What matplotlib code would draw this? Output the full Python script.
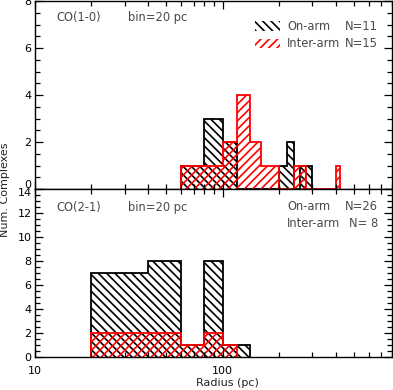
import numpy as np
import matplotlib
matplotlib.use('Agg')
import matplotlib.pyplot as plt
from matplotlib.patches import Rectangle
from matplotlib.ticker import LogLocator, NullFormatter, FixedLocator, FixedFormatter, MultipleLocator

# ---- histogram data (left bin edge in pc, counts) ----
binWidth = 20
co10_on_left = [60, 80, 100, 200, 220, 260, 280]
co10_on_n = [1, 3, 2, 1, 2, 1, 1]
co10_inter_left = [60, 80, 100, 120, 140, 160, 180, 240, 260, 400]
co10_inter_n = [1, 1, 2, 4, 2, 1, 1, 1, 1, 1]

co21_on_left = [20, 40, 60, 80, 100, 120]
co21_on_n = [7, 8, 1, 8, 1, 1]
co21_inter_left = [20, 40, 60, 80, 100]
co21_inter_n = [2, 2, 1, 2, 1]

panelLabels = ['CO(1-0)', 'CO(2-1)']
onText = ['N=11', 'N=26']
interText = ['N=15', 'N= 8']
yMax = [8, 14]
xTicks = [10, 100]
xTickLabels = ['10', '100']

plt.rcParams['font.family'] = 'DejaVu Sans'
plt.rcParams['hatch.linewidth'] = 1.2

W, H = 393., 390.
fig = plt.figure(figsize=(W/100, H/100), dpi=100)
axTop = fig.add_axes([35/W, 1-189/H, 357/W, 188/H])
axBot = fig.add_axes([35/W, 1-357/H, 357/W, 168/H])
textGray = '#4a4a4a'
fs = 8.3
hatchOn = '\\' * 4
hatchInter = '/' * 4


def draw_hist(ax, left, n, color, hatch):
    left = np.array(left)
    n = np.array(n)
    ax.bar(left, n, width=binWidth, align='edge', facecolor='none',
           edgecolor=color, hatch=hatch, linewidth=0)
    # step outline over the full bin range (zero bins included)
    edges = np.arange(left.min(), left.max() + 2*binWidth, binWidth)
    vals = np.zeros(len(edges) - 1)
    for l, c in zip(left, n):
        vals[int((l - left.min())//binWidth)] = c
    ax.stairs(vals, edges, color=color, linewidth=1.3)


draw_hist(axTop, co10_on_left, co10_on_n, 'black', hatchOn)
draw_hist(axTop, co10_inter_left, co10_inter_n, 'red', hatchInter)
draw_hist(axBot, co21_on_left, co21_on_n, 'black', hatchOn)
draw_hist(axBot, co21_inter_left, co21_inter_n, 'red', hatchInter)

for i, ax in enumerate([axTop, axBot]):
    ax.set_xscale('log')
    ax.set_xlim(10, 800)
    ax.set_ylim(0, yMax[i])
    ax.xaxis.set_major_locator(FixedLocator(xTicks))
    ax.xaxis.set_major_formatter(FixedFormatter(xTickLabels))
    ax.xaxis.set_minor_locator(LogLocator(base=10, subs=np.arange(2, 10), numticks=20))
    ax.xaxis.set_minor_formatter(NullFormatter())
    yt = list(range(0, yMax[i] + 1, 2))
    ax.yaxis.set_major_locator(FixedLocator(yt))
    # the 0 (top) and 14 (bottom) labels are placed by hand below
    lab = [str(v) for v in yt]
    if i == 0:
        lab[0] = ''
    else:
        lab[-1] = ''
    ax.yaxis.set_major_formatter(FixedFormatter(lab))
    ax.yaxis.set_minor_locator(MultipleLocator(0.5))
    ax.tick_params(which='both', direction='in', top=True, right=True,
                   labelsize=8, colors='black')
    ax.tick_params(which='major', length=6, width=0.9)
    ax.tick_params(which='minor', length=3.5, width=0.9)
    ax.tick_params(axis='y', pad=2.4)
    ax.tick_params(axis='x', pad=6.5)
    for s in ax.spines.values():
        s.set_linewidth(1.0)

axTop.set_xticklabels([])

fig.text(31.5/W, 1-184.5/H, '0', fontsize=8, ha='right', va='center')
fig.text(31.5/W, 1-193.5/H, '14', fontsize=8, ha='right', va='center')

# panel labels
for yc, lab in [(18, panelLabels[0]), (207, panelLabels[1])]:
    fig.text(56/W, 1-yc/H, lab, color=textGray, fontsize=fs, va='center')
    fig.text(128/W, 1-yc/H, 'bin=20 pc', color=textGray, fontsize=fs, va='center')

# legend in top panel: hatched swatches
for yc, color, hatch in [(26, 'black', hatchOn), (43.5, 'red', hatchInter)]:
    fig.patches.append(Rectangle((255/W, 1-(yc+4.5)/H), 25/W, 9/H,
                                 transform=fig.transFigure, facecolor='none',
                                 edgecolor=color, hatch=hatch, linewidth=0))

for y1, y2, k in [(26, 43.5, 0), (207, 224, 1)]:
    fig.text(287/W, 1-y1/H, 'On-arm', color=textGray, fontsize=fs, va='center')
    fig.text(378/W, 1-y1/H, onText[k], color=textGray, fontsize=fs, va='center', ha='right')
    fig.text(287/W, 1-y2/H, 'Inter-arm', color=textGray, fontsize=fs, va='center')
    fig.text(378/W, 1-y2/H, interText[k], color=textGray, fontsize=fs, va='center', ha='right')

fig.text(227/W, 1-383/H, 'Radius (pc)', fontsize=8, ha='center', va='center', color='#222222')
fig.text(5/W, 1-190/H, 'Num. Complexes', fontsize=8, ha='center', va='center',
         rotation=90, color='#222222')

fig.savefig('out.png', dpi=100)
